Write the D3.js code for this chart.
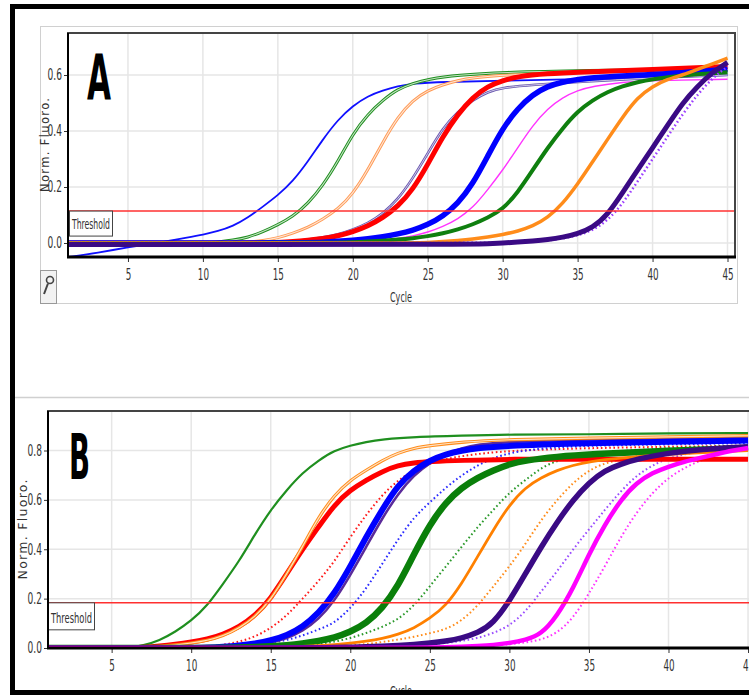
<!DOCTYPE html>
<html>
<head>
<meta charset="utf-8">
<script src="https://cdn.jsdelivr.net/npm/d3@7"></script>
<style>
body { margin: 0; background: #fff; }
svg { display: block; }
.narrow { font-family: "Liberation Sans Narrow", "DejaVu Sans Condensed", "Arial Narrow", sans-serif; fill: #333; }
</style>
</head>
<body>
<script>
// ---- data: [cycle, norm. fluoro] ----
const cycleTicks = [5, 10, 15, 20, 25, 30, 35, 40, 45];
const yTicksA = [0, 0.2, 0.4, 0.6];
const yTicksB = [0, 0.2, 0.4, 0.6, 0.8];
const thresholdA = 0.114;
const thresholdB = 0.183;

// panel A
const aBlue = [[1,-0.05],[3,-0.035],[5,-0.015],[7,0],[9,0.02],[10,0.03],[11,0.042],[12,0.06],[13,0.09],[14,0.13],[15,0.17],[16,0.22],[17,0.29],[18,0.37],[19,0.44],[20,0.49],[21,0.525],[22,0.545],[23,0.56],[24,0.57],[26,0.575],[30,0.58],[35,0.585],[40,0.59],[45,0.6]];
const aGreen = [[1,0],[10,0],[11,0.003],[12,0.01],[13,0.02],[14,0.04],[15,0.065],[16,0.095],[17,0.14],[18,0.205],[19,0.29],[20,0.39],[21,0.46],[22,0.51],[23,0.55],[24,0.57],[25,0.585],[27,0.6],[30,0.61],[35,0.615],[40,0.62],[45,0.62]];
const aOrange = [[1,0],[12,0],[13,0.003],[14,0.008],[15,0.018],[16,0.035],[17,0.055],[18,0.085],[19,0.12],[20,0.175],[21,0.26],[22,0.36],[23,0.45],[24,0.51],[25,0.545],[26,0.565],[27,0.58],[28,0.59],[30,0.6],[35,0.61],[40,0.615],[45,0.62]];
const aSlate = [[1,0],[14,0],[15,0.003],[16,0.006],[17,0.012],[18,0.02],[19,0.03],[20,0.048],[21,0.07],[22,0.105],[23,0.155],[24,0.23],[25,0.32],[26,0.41],[27,0.47],[28,0.51],[29,0.54],[30,0.555],[32,0.565],[35,0.575],[40,0.59],[45,0.6]];
const aRed = [[1,0],[14,0],[15,0.002],[16,0.005],[17,0.01],[18,0.016],[19,0.025],[20,0.04],[21,0.06],[22,0.09],[23,0.13],[24,0.19],[25,0.28],[26,0.38],[27,0.46],[28,0.52],[29,0.56],[30,0.58],[31,0.595],[33,0.605],[35,0.61],[40,0.62],[45,0.63]];
const aBlueBand = [[1,0],[17,0],[18,0.003],[19,0.006],[20,0.01],[21,0.015],[22,0.022],[23,0.032],[24,0.045],[25,0.065],[26,0.095],[27,0.14],[28,0.21],[29,0.31],[30,0.41],[31,0.48],[32,0.53],[33,0.56],[34,0.575],[35,0.585],[37,0.595],[40,0.6],[45,0.62]];
const aMagenta = [[1,0],[19,0],[20,0.002],[21,0.005],[22,0.01],[23,0.016],[24,0.025],[25,0.038],[26,0.058],[27,0.085],[28,0.125],[29,0.19],[30,0.26],[31,0.34],[32,0.42],[33,0.48],[34,0.52],[35,0.545],[36,0.56],[38,0.575],[40,0.58],[45,0.585]];
const aGreenBand = [[1,0],[19,0],[20,0.003],[21,0.005],[22,0.008],[23,0.012],[24,0.017],[25,0.024],[26,0.034],[27,0.048],[28,0.066],[29,0.09],[30,0.12],[31,0.18],[32,0.26],[33,0.34],[34,0.41],[35,0.47],[36,0.51],[37,0.54],[38,0.56],[39,0.575],[40,0.585],[42,0.6],[45,0.61]];
const aOrangeBand = [[1,0],[24,0],[25,0.002],[26,0.005],[27,0.009],[28,0.014],[29,0.021],[30,0.03],[31,0.042],[32,0.06],[33,0.09],[34,0.14],[35,0.21],[36,0.29],[37,0.37],[38,0.45],[39,0.52],[40,0.56],[41,0.585],[42,0.6],[43,0.62],[44,0.64],[45,0.66]];
const aIndigo = [[1,-0.005],[28,-0.005],[29,-0.003],[30,0],[31,0.003],[32,0.007],[33,0.012],[34,0.02],[35,0.033],[36,0.055],[37,0.1],[38,0.18],[39,0.26],[40,0.34],[41,0.42],[42,0.5],[43,0.56],[44,0.61],[45,0.645]];
const aViolet = [[1,0],[30,0],[31,0.002],[32,0.005],[33,0.009],[34,0.016],[35,0.027],[36,0.045],[37,0.08],[38,0.14],[39,0.22],[40,0.3],[41,0.38],[42,0.46],[43,0.53],[44,0.59],[45,0.63]];

// panel B
const bGreen = [[1,0],[6,0],[7,0.01],[8,0.03],[9,0.065],[10,0.11],[11,0.17],[12,0.26],[13,0.35],[14,0.46],[15,0.56],[16,0.64],[17,0.71],[18,0.76],[19,0.8],[20,0.82],[21,0.835],[22,0.845],[24,0.855],[27,0.86],[30,0.865],[35,0.865],[40,0.87],[45,0.87]];
const bOrange = [[1,0],[6,0],[7,0.002],[8,0.006],[9,0.012],[10,0.02],[11,0.03],[12,0.048],[13,0.08],[14,0.125],[15,0.195],[16,0.3],[17,0.41],[18,0.53],[19,0.62],[20,0.68],[21,0.72],[22,0.76],[23,0.79],[24,0.81],[25,0.82],[27,0.835],[30,0.845],[35,0.85],[40,0.855],[45,0.86]];
const bRed = [[1,0],[6,0],[7,0.003],[8,0.008],[9,0.015],[10,0.024],[11,0.035],[12,0.055],[13,0.085],[14,0.13],[15,0.2],[16,0.3],[17,0.4],[18,0.49],[19,0.58],[20,0.64],[21,0.68],[22,0.715],[23,0.74],[24,0.75],[25,0.755],[27,0.76],[30,0.765],[35,0.765],[40,0.765],[45,0.765]];
const bRedDot = [[1,0],[10,0],[11,0.005],[12,0.012],[13,0.025],[14,0.045],[15,0.08],[16,0.13],[17,0.2],[18,0.27],[19,0.35],[20,0.45],[21,0.54],[22,0.62],[23,0.68],[24,0.72],[25,0.75],[27,0.78],[30,0.8],[35,0.81],[40,0.815],[45,0.82]];
const bBlue = [[1,0],[10,0],[11,0.002],[12,0.005],[13,0.01],[14,0.018],[15,0.03],[16,0.05],[17,0.085],[18,0.14],[19,0.22],[20,0.33],[21,0.45],[22,0.56],[23,0.66],[24,0.72],[25,0.76],[26,0.785],[27,0.8],[28,0.81],[30,0.82],[35,0.83],[40,0.835],[45,0.84]];
const bPurple = [[1,0],[11,0],[12,0.002],[13,0.006],[14,0.012],[15,0.022],[16,0.038],[17,0.068],[18,0.115],[19,0.19],[20,0.295],[21,0.41],[22,0.525],[23,0.625],[24,0.7],[25,0.75],[26,0.785],[27,0.81],[28,0.825],[30,0.835],[35,0.845],[40,0.85],[45,0.855]];
const bBlueDot = [[1,0],[12,0],[13,0.005],[14,0.01],[15,0.02],[16,0.032],[17,0.05],[18,0.075],[19,0.1],[20,0.16],[21,0.24],[22,0.34],[23,0.44],[24,0.53],[25,0.59],[26,0.65],[27,0.7],[28,0.74],[29,0.77],[30,0.79],[32,0.81],[35,0.82],[40,0.825],[45,0.83]];
const bGreenBand = [[1,0],[12,0],[13,0.002],[14,0.004],[15,0.007],[16,0.011],[17,0.018],[18,0.028],[19,0.042],[20,0.065],[21,0.1],[22,0.16],[23,0.25],[24,0.38],[25,0.5],[26,0.59],[27,0.65],[28,0.69],[29,0.72],[30,0.745],[31,0.76],[33,0.775],[35,0.785],[40,0.8],[45,0.81]];
const bGreenDot = [[1,0],[14,0],[15,0.003],[16,0.006],[17,0.01],[18,0.016],[19,0.025],[20,0.04],[21,0.06],[22,0.085],[23,0.115],[24,0.17],[25,0.25],[26,0.33],[27,0.41],[28,0.49],[29,0.56],[30,0.63],[31,0.68],[32,0.73],[33,0.76],[35,0.79],[40,0.81],[45,0.82]];
const bOrangeBand = [[1,0],[14,0],[15,0.002],[16,0.004],[17,0.006],[18,0.009],[19,0.013],[20,0.019],[21,0.027],[22,0.038],[23,0.055],[24,0.08],[25,0.12],[26,0.17],[27,0.26],[28,0.37],[29,0.48],[30,0.58],[31,0.65],[32,0.69],[33,0.72],[34,0.74],[35,0.755],[37,0.77],[40,0.785],[45,0.8]];
const bOrangeDot = [[1,0],[17,0],[18,0.003],[19,0.006],[20,0.01],[21,0.016],[22,0.024],[23,0.034],[24,0.045],[25,0.06],[26,0.075],[27,0.11],[28,0.17],[29,0.25],[30,0.33],[31,0.42],[32,0.52],[33,0.6],[34,0.67],[35,0.72],[36,0.75],[38,0.78],[40,0.79],[45,0.8]];
const bIndigo = [[1,0],[17,0],[18,0.001],[19,0.002],[20,0.003],[21,0.005],[22,0.007],[23,0.01],[24,0.014],[25,0.02],[26,0.028],[27,0.04],[28,0.06],[29,0.1],[30,0.19],[31,0.3],[32,0.41],[33,0.51],[34,0.6],[35,0.67],[36,0.72],[37,0.745],[38,0.765],[40,0.79],[42,0.805],[45,0.815]];
const bVioletDot = [[1,0],[20,0],[21,0.002],[22,0.004],[23,0.007],[24,0.01],[25,0.015],[26,0.02],[27,0.028],[28,0.04],[29,0.06],[30,0.09],[31,0.145],[32,0.23],[33,0.31],[34,0.4],[35,0.48],[36,0.56],[37,0.635],[38,0.7],[39,0.74],[40,0.77],[42,0.8],[45,0.82]];
const bMagenta = [[1,0],[23,0],[24,0.001],[25,0.002],[26,0.003],[27,0.005],[28,0.008],[29,0.012],[30,0.02],[31,0.032],[32,0.055],[33,0.13],[34,0.24],[35,0.38],[36,0.5],[37,0.6],[38,0.67],[39,0.71],[40,0.735],[41,0.755],[42,0.77],[43,0.785],[44,0.8],[45,0.81]];
const bMagentaDot = [[1,0],[25,0],[26,0.002],[27,0.004],[28,0.007],[29,0.01],[30,0.015],[31,0.022],[32,0.033],[33,0.06],[34,0.12],[35,0.22],[36,0.33],[37,0.45],[38,0.55],[39,0.63],[40,0.69],[41,0.73],[42,0.76],[43,0.78],[44,0.8],[45,0.81]];

// ---- drawing ----
const W = 749, H = 695;
let svg = d3.select("body").append("svg").attr("width", W).attr("height", H);
let defs = svg.append("defs");

let line = (x, y) => d3.line().x(d => x(d[0])).y(d => y(d[1])).curve(d3.curveBasis);

// kind: solid | double | dot
function drawSeries(g, x, y, pts, color, width, kind) {
    let l = line(x, y);
    let p = g.append("path").datum(pts)
        .attr("d", l).attr("fill", "none")
        .attr("stroke", color).attr("stroke-width", width)
        .attr("stroke-linejoin", "round");
    if (kind === "dot") {
        p.attr("stroke-dasharray", "1.6,2.6");
    }
    if (kind === "double") {
        g.append("path").datum(pts)
            .attr("d", l).attr("fill", "none")
            .attr("stroke", "#fff").attr("stroke-opacity", 0.75)
            .attr("stroke-width", width * 0.35);
    }
}

// squeeze tick text to the narrow look of the original
function narrowTicks(sel, perChar) {
    sel.attr("class", "narrow").attr("font-size", 15).attr("fill", "#333")
        .attr("lengthAdjust", "spacingAndGlyphs")
        .attr("textLength", function() { return this.textContent.length * perChar; });
}

function drawPanel(o) {
    let x = d3.scaleLinear().domain([1, 45.5]).range([o.left, o.right]);
    let y = d3.scaleLinear().domain(o.yDomain).range([o.bottom, o.top]);
    let g = svg.append("g");

    defs.append("clipPath").attr("id", o.id)
        .append("rect").attr("x", o.left).attr("y", o.top)
        .attr("width", o.right - o.left).attr("height", o.bottom - o.top);

    // grid
    g.append("g").selectAll("line").data(cycleTicks).join("line")
        .attr("x1", d => x(d)).attr("x2", d => x(d))
        .attr("y1", o.top).attr("y2", o.bottom)
        .attr("stroke", "#e6e6e6").attr("stroke-width", 1.5);
    g.append("g").selectAll("line").data(o.yTicks).join("line")
        .attr("x1", o.left).attr("x2", o.right)
        .attr("y1", d => y(d)).attr("y2", d => y(d))
        .attr("stroke", "#e6e6e6").attr("stroke-width", 1.5);

    // axes
    let ax = g.append("g").attr("transform", `translate(0,${o.bottom})`)
        .call(d3.axisBottom(x).tickValues(cycleTicks).tickSize(5).tickPadding(7));
    let ay = g.append("g").attr("transform", `translate(${o.left},0)`)
        .call(d3.axisLeft(y).tickValues(o.yTicks).tickFormat(d3.format(".1f")).tickSize(4).tickPadding(2));
    [ax, ay].forEach(a => {
        a.select(".domain").remove();
        a.selectAll(".tick line").attr("stroke", "#333");
    });
    narrowTicks(ax.selectAll(".tick text"), 5.6);
    narrowTicks(ay.selectAll(".tick text"), 4.8);

    // curves
    let cg = g.append("g").attr("clip-path", `url(#${o.id})`);
    o.series.forEach(s => drawSeries(cg, x, y, s[0], s[1], s[2], s[3]));

    // threshold
    cg.append("line")
        .attr("x1", o.left).attr("x2", o.right)
        .attr("y1", y(o.threshold)).attr("y2", y(o.threshold))
        .attr("stroke", "#ff3030").attr("stroke-width", 1.5);
    g.append("rect")
        .attr("x", o.left + 0.5 + o.boxInset).attr("y", y(o.threshold))
        .attr("width", o.boxW).attr("height", o.boxH)
        .attr("fill", "#fff").attr("stroke", "#444").attr("stroke-width", 1);
    g.append("text").attr("class", "narrow")
        .attr("x", o.left + 3 + o.boxInset).attr("y", y(o.threshold) + o.boxH - 7)
        .attr("font-size", 14).attr("fill", "#222")
        .attr("textLength", o.boxW - 5).attr("lengthAdjust", "spacingAndGlyphs")
        .text("Threshold");

    // frame
    g.append("path")
        .attr("d", `M${o.left},${o.bottom} V${o.top} H${o.right} V${o.bottom}`)
        .attr("fill", "none").attr("stroke", "#444").attr("stroke-width", 2);
    g.append("line")
        .attr("x1", o.left - 1).attr("x2", o.right + 1)
        .attr("y1", o.bottom).attr("y2", o.bottom)
        .attr("stroke", "#000").attr("stroke-width", 3);
    g.append("line")
        .attr("x1", o.left).attr("x2", o.left)
        .attr("y1", o.top).attr("y2", o.bottom)
        .attr("stroke", "#000").attr("stroke-width", 2);

    // labels
    g.append("text")
        .attr("transform", `translate(${o.yLabelX},${(o.top + o.bottom) / 2 + o.yLabelDy}) rotate(-90)`)
        .attr("text-anchor", "middle")
        .attr("font-family", "DejaVu Sans, sans-serif").attr("font-size", o.yLabelSize).attr("fill", "#333")
        .attr("textLength", o.yLabelLen).attr("lengthAdjust", "spacing")
        .text("Norm. Fluoro.");
    g.append("text").attr("class", "narrow")
        .attr("x", 401).attr("y", o.cycleY)
        .attr("text-anchor", "middle").attr("font-size", 14)
        .attr("textLength", 22).attr("lengthAdjust", "spacingAndGlyphs")
        .text("Cycle");
    g.append("text")
        .attr("x", o.letterX).attr("y", o.letterY)
        .attr("font-family", "DejaVu Sans Condensed, sans-serif").attr("font-weight", "bold")
        .attr("font-size", 63).attr("fill", "#000")
        .attr("textLength", o.letterW).attr("lengthAdjust", "spacingAndGlyphs")
        .text(o.letter);
}

// panel A outer box + wrench button
svg.append("rect").attr("x", 40.5).attr("y", 26.5).attr("width", 697).attr("height", 277)
    .attr("fill", "#fff").attr("stroke", "#d0d0d0");
svg.append("rect").attr("x", 40.5).attr("y", 270.5).attr("width", 16).attr("height", 33)
    .attr("fill", "#f2f2f2").attr("stroke", "#999");
svg.append("circle").attr("cx", 50).attr("cy", 280).attr("r", 3.5)
    .attr("fill", "none").attr("stroke", "#444").attr("stroke-width", 1.6);
svg.append("line").attr("x1", 48).attr("y1", 283.5).attr("x2", 44).attr("y2", 294)
    .attr("stroke", "#444").attr("stroke-width", 2);

drawPanel({
    id: "clipA", letter: "A", left: 68, right: 735, top: 33, bottom: 257,
    yDomain: [-0.05, 0.75], yTicks: yTicksA, threshold: thresholdA,
    boxInset: 1, boxW: 43, boxH: 25,
    yLabelX: 49, yLabelDy: 0, yLabelSize: 11.5, yLabelLen: 94, cycleY: 302,
    letterX: 87, letterY: 99, letterW: 24,
    series: [
        [aBlue, "#1010ff", 1.8, "solid"],
        [aGreen, "#1f8f1f", 3, "double"],
        [aOrange, "#ff9a55", 3, "double"],
        [aSlate, "#6a58b0", 2.6, "double"],
        [aRed, "#ff0000", 5, "solid"],
        [aBlueBand, "#0000ff", 5.5, "solid"],
        [aMagenta, "#ff33ff", 1.4, "solid"],
        [aGreenBand, "#0f7f0f", 4, "solid"],
        [aOrangeBand, "#ff8c1a", 3.5, "solid"],
        [aViolet, "#9a3cff", 2.5, "dot"],
        [aIndigo, "#3a0a84", 5, "solid"]
    ]
});

// divider above panel B
svg.append("line").attr("x1", 15).attr("x2", W).attr("y1", 397.5).attr("y2", 397.5)
    .attr("stroke", "#d0d0d0").attr("stroke-width", 1.5);

drawPanel({
    id: "clipB", letter: "B", left: 48, right: 756, top: 411, bottom: 648,
    yDomain: [0, 0.96], yTicks: yTicksB, threshold: thresholdB,
    boxInset: 0, boxW: 46, boxH: 27,
    yLabelX: 27, yLabelDy: 0, yLabelSize: 12.5, yLabelLen: 100, cycleY: 696,
    letterX: 69, letterY: 479, letterW: 21,
    series: [
        [bRedDot, "#ff1a1a", 2, "dot"],
        [bBlueDot, "#2a2aff", 2, "dot"],
        [bGreenDot, "#2a992a", 2, "dot"],
        [bOrangeDot, "#ff8c1a", 2, "dot"],
        [bVioletDot, "#9a4cff", 2, "dot"],
        [bMagentaDot, "#ff33ff", 2, "dot"],
        [bPurple, "#5a2a9a", 2.5, "solid"],
        [bGreen, "#1f8f1f", 2.2, "solid"],
        [bRed, "#ff0000", 5, "solid"],
        [bOrange, "#ff8c1a", 3.2, "double"],
        [bBlue, "#0000ff", 6, "solid"],
        [bGreenBand, "#0a7f0a", 6.5, "solid"],
        [bOrangeBand, "#ff8000", 2.8, "solid"],
        [bIndigo, "#3a0a84", 5.5, "solid"],
        [bMagenta, "#ff00ff", 4.5, "solid"]
    ]
});

// outer black frame (right edge runs off the picture)
svg.append("rect").attr("x", 12.5).attr("y", 6.5).attr("width", 800).attr("height", 686)
    .attr("fill", "none").attr("stroke", "#000").attr("stroke-width", 5);
</script>
</body>
</html>
